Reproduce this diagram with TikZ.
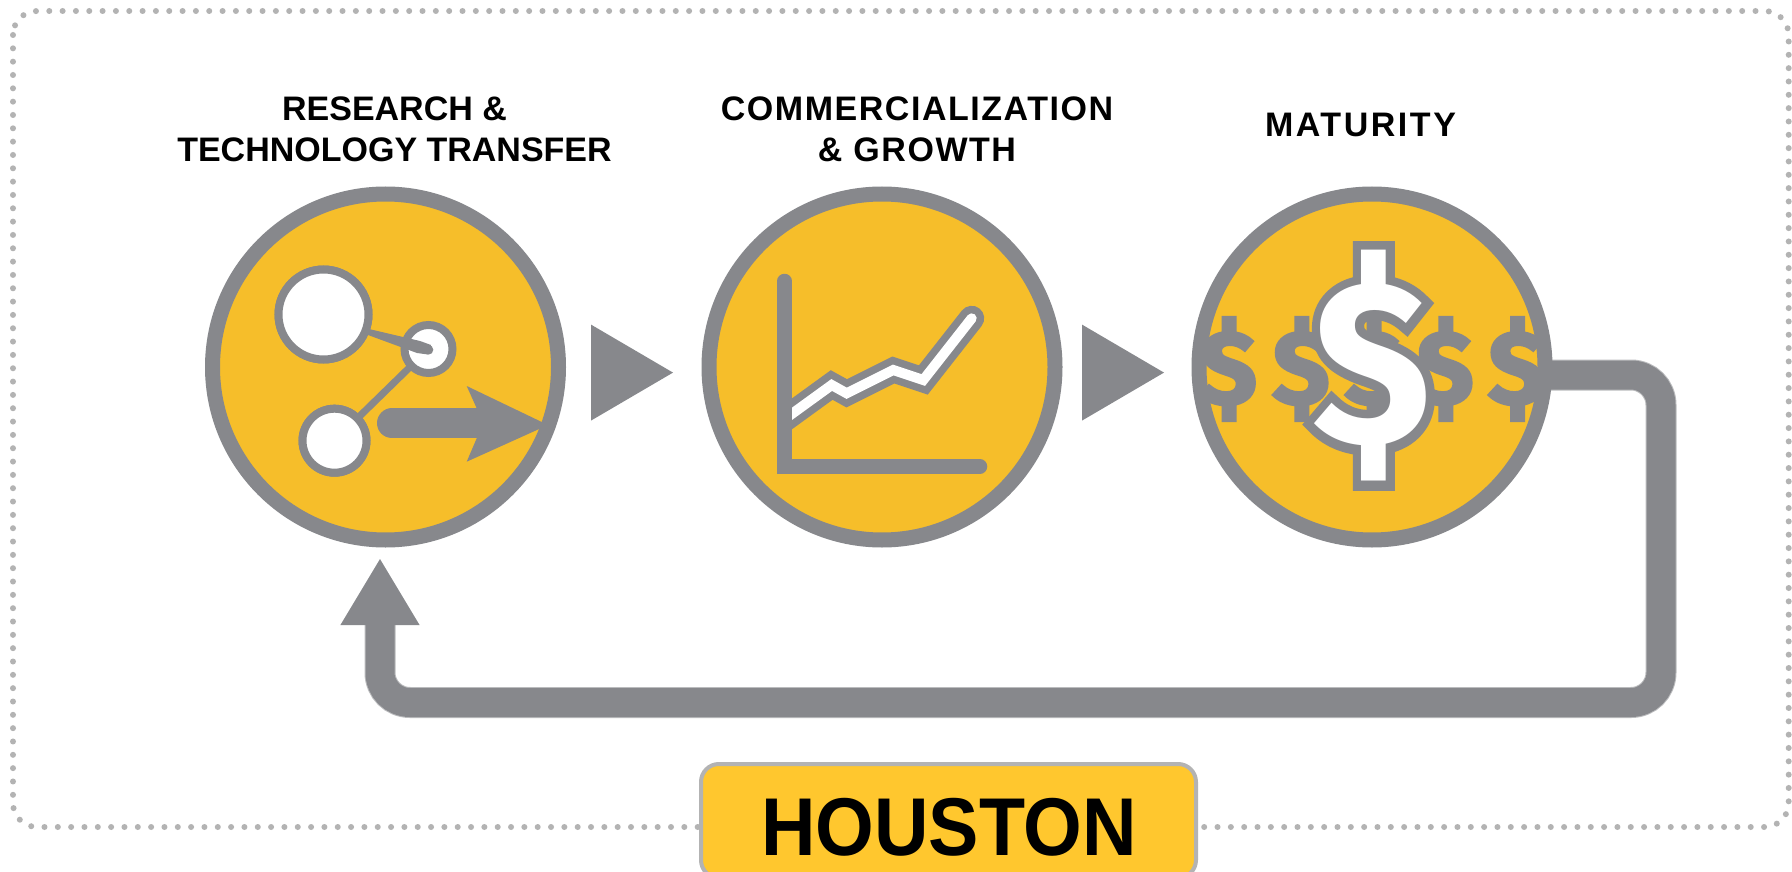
\documentclass[tikz,border=0pt]{standalone}
\usepackage{fontspec}
\setmainfont{Liberation Sans}
\newfontfamily\dollarfat[BoldFeatures={FakeBold=8}]{Fira Sans}
\newfontfamily\dollarsmall[BoldFeatures={FakeBold=3}]{Fira Sans}
\newfontfamily\dollarfont{Fira Sans}
\usetikzlibrary{arrows.meta,calc}
\definecolor{ringgray}{HTML}{87888C}
\definecolor{edgegray}{HTML}{BBBCBE}
\definecolor{dotgray}{HTML}{B3B3B3}
\definecolor{discyellow}{HTML}{F6BE2A}
\definecolor{boxyellow}{HTML}{FFC72E}
\tikzset{
  disc/.style={circle,draw=ringgray,fill=discyellow,line width=15pt,minimum size=346pt,inner sep=0pt,outer sep=0pt},
  bub/.style={circle,draw=ringgray,fill=white,line width=8pt,inner sep=0pt,outer sep=0pt},
  tri/.style={fill=ringgray},
  headline/.style={font=\bfseries\fontsize{34}{41}\selectfont,align=center,text=black,inner sep=0pt},
  smalldollar/.style={text=ringgray,font=\dollarsmall\bfseries\fontsize{104}{104}\selectfont,inner sep=0pt},
  chartline/.style={line cap=round,miter limit=10},
}
\begin{document}
\begin{tikzpicture}[x=1pt,y=-1pt]
\useasboundingbox (0,0) rectangle (1792,872);
\fill[white] (0,0) rectangle (1792,872);
% dotted frame
\draw[dotgray,line width=6pt,line cap=round,dash pattern=on 0pt off 13.33pt,rounded corners=24pt] (13,11) rectangle (1788.7,827);
% return connector
\coordinate (retstart) at (1540,375);
\coordinate (retA) at (1661,375);
\coordinate (retB) at (1661,702.5);
\coordinate (retC) at (380,702.5);
\coordinate (rettip) at (380,558);
\draw[edgegray,line width=31pt,rounded corners=30pt] (retstart) -- (retA) -- (retB) -- (retC) -- (380,625);
% discs
\node[disc] (c1) at (385.5,367) {};
\node[disc] (c2) at (882,367) {};
\node[disc] (c3) at (1372,367) {};
\draw[ringgray,line width=29pt,rounded corners=30pt,-{Triangle[length=67pt,width=74pt]}] (retstart) -- (retA) -- (retB) -- (retC) -- (rettip);
\fill[tri] (591,324.6) -- (673,372.6) -- (591,420.6) -- cycle;
\fill[tri] (1082,324.6) -- (1164,372.6) -- (1082,420.6) -- cycle;
% icon 1
\node[bub,minimum size=90pt] (b1) at (323.5,314.5) {};
\node[bub,minimum size=48pt] (b2) at (428.5,349) {};
\node[bub,minimum size=64pt] (b3) at (334.5,440.7) {};
\draw[ringgray,line width=7pt] (b2) -- (b3);
\node[bub,minimum size=64pt] at (b3) {};
\fill[ringgray] (369,329) -- (368,335) -- (417,353) -- (428,354.5) -- (431,345) -- (420,341) -- cycle;
\fill[ringgray] (428.5,349.8) circle[radius=4.8pt];
\node[bub,minimum size=90pt] at (b1) {};
\draw[ringgray,line width=30pt,line cap=round] (392,423.3) -- (480,423.3);
\fill[ringgray] (476.7,408.3) -- (466.7,386) -- (548,425) -- (466.7,461.7) -- (476.7,438.3) -- cycle;
% icon 2
\begin{scope}
\clip (784.5,250) rectangle (1020,470);
\draw[ringgray,line width=25pt,chartline] (780,422.5) -- (831.7,385) -- (846.7,393.3) -- (893.3,370) -- (923.3,380) -- (971.7,318.3);
\draw[white,line width=10pt,chartline] (780,422.5) -- (831.7,385) -- (846.7,393.3) -- (893.3,370) -- (923.3,380) -- (971.7,318.3);
\end{scope}
\draw[ringgray,line width=14.5pt,line cap=round,miter limit=10] (784.5,281) -- (784.5,466.5) -- (980,466.5);
% icon 3
\foreach \n/\xx in {d1/1228.3,d2/1301,d3/1373.3,d4/1445,d5/1516.7}{
  \node[smalldollar] (\n) at (\xx,369) {\$};
}
\node[text=ringgray,font=\dollarfat\bfseries\fontsize{233}{233}\selectfont,xscale=.93,inner sep=0pt] (dbigo) at (1372,366) {\$};
\node[text=white,font=\dollarfont\bfseries\fontsize{233}{233}\selectfont,xscale=.93,inner sep=0pt] (dbig) at (1372,366) {\$};
% headings
\node[headline] (t1) at (394.5,129) {RESEARCH \&\\TECHNOLOGY TRANSFER};
\node[headline] (t2) at (917,129) {\addfontfeature{LetterSpace=4.5}COMMERCIALIZATION\\\addfontfeature{LetterSpace=4.5}\& GROWTH};
\node[headline] (t3) at (1360.5,125) {\addfontfeature{LetterSpace=7.5}MATURITY};
% Houston
\draw[dotgray,line width=4pt,fill=boxyellow,rounded corners=18pt] (701,764) rectangle (1196,878);
\node[font=\bfseries\fontsize{82}{82}\selectfont,xscale=0.92,inner sep=0pt] (hou) at (949,827) {HOUSTON};
\end{tikzpicture}
\end{document}
